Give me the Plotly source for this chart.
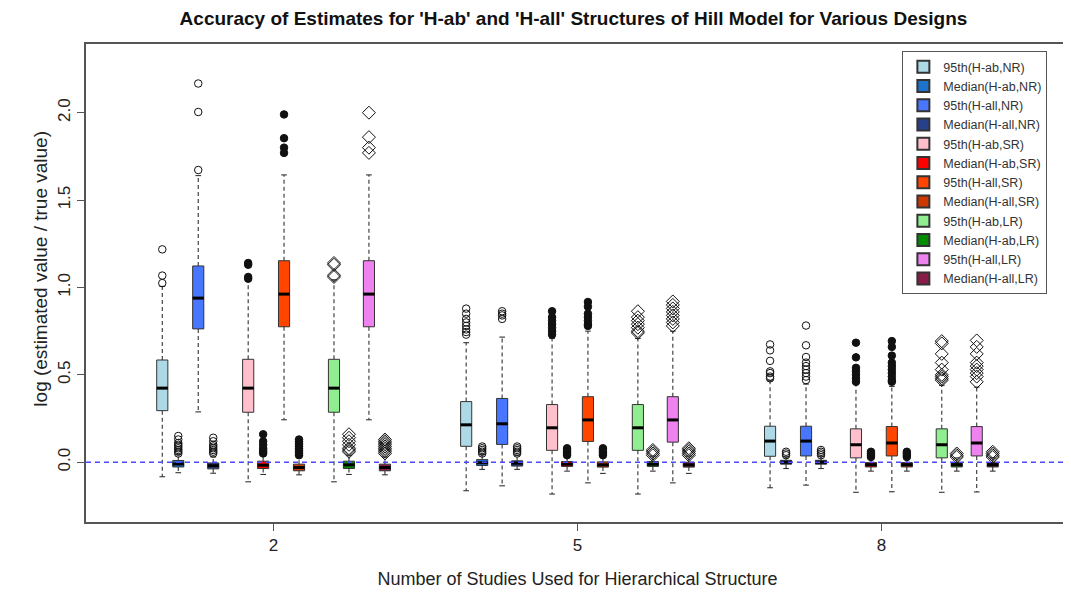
import plotly.graph_objects as go

# ---------------- data ----------------
groups = [2, 5, 8]
group_labels = ["2", "5", "8"]

series_names = [
    "95th(H-ab,NR)", "Median(H-ab,NR)", "95th(H-all,NR)", "Median(H-all,NR)",
    "95th(H-ab,SR)", "Median(H-ab,SR)", "95th(H-all,SR)", "Median(H-all,SR)",
    "95th(H-ab,LR)", "Median(H-ab,LR)", "95th(H-all,LR)", "Median(H-all,LR)",
]

q1_vals = [
    [0.295, 0.091, 0.034], [-0.027, -0.019, -0.011], [0.763, 0.102, 0.036], [-0.038, -0.022, -0.011],
    [0.286, 0.068, 0.025], [-0.036, -0.024, -0.027], [0.775, 0.119, 0.036], [-0.049, -0.028, -0.027],
    [0.286, 0.068, 0.025], [-0.036, -0.024, -0.027], [0.775, 0.115, 0.036], [-0.049, -0.028, -0.027],
]
median_vals = [
    [0.424, 0.214, 0.121], [-0.010, -0.003, 0.000], [0.939, 0.220, 0.121], [-0.020, -0.005, 0.000],
    [0.424, 0.197, 0.100], [-0.017, -0.011, -0.014], [0.962, 0.242, 0.110], [-0.030, -0.015, -0.014],
    [0.424, 0.197, 0.100], [-0.015, -0.011, -0.014], [0.962, 0.242, 0.110], [-0.030, -0.015, -0.014],
]
q3_vals = [
    [0.585, 0.347, 0.206], [0.010, 0.015, 0.011], [1.123, 0.365, 0.206], [-0.004, 0.008, 0.011],
    [0.589, 0.330, 0.191], [0.006, 0.004, -0.002], [1.153, 0.375, 0.204], [-0.011, 0.002, -0.002],
    [0.589, 0.330, 0.191], [0.006, 0.004, -0.002], [1.153, 0.375, 0.204], [-0.011, 0.000, -0.002],
]
whisker_low = [
    [-0.083, -0.163, -0.146], [-0.060, -0.041, -0.036], [0.288, -0.135, -0.131], [-0.063, -0.041, -0.036],
    [-0.112, -0.182, -0.172], [-0.070, -0.051, -0.051], [0.243, -0.118, -0.169], [-0.072, -0.064, -0.051],
    [-0.112, -0.182, -0.172], [-0.070, -0.051, -0.051], [0.243, -0.118, -0.170], [-0.072, -0.064, -0.051],
]
whisker_high = [
    [1.006, 0.684, 0.466], [0.045, 0.045, 0.030], [1.640, 0.716, 0.447], [0.030, 0.040, 0.035],
    [1.044, 0.708, 0.447], [0.040, 0.035, 0.025], [1.644, 0.750, 0.434], [0.030, 0.035, 0.025],
    [1.044, 0.708, 0.440], [0.040, 0.035, 0.025], [1.644, 0.750, 0.430], [0.030, 0.035, 0.025],
]
outliers = [
    [[1.218, 1.068, 1.025], [0.879, 0.85, 0.82, 0.80, 0.78, 0.76, 0.745, 0.73], [0.674, 0.64, 0.58, 0.52, 0.51, 0.49, 0.48]],
    [[0.05, 0.06, 0.07, 0.08, 0.09, 0.10, 0.11, 0.13, 0.15], [0.05, 0.06, 0.07, 0.08, 0.09], [0.04, 0.05, 0.06]],
    [[2.167, 2.004, 1.672], [0.864, 0.85, 0.84, 0.82], [0.782, 0.669, 0.602, 0.57, 0.55, 0.53, 0.51, 0.49, 0.47]],
    [[0.05, 0.06, 0.07, 0.08, 0.09, 0.10, 0.12, 0.14], [0.05, 0.06, 0.07, 0.08, 0.09], [0.04, 0.05, 0.06, 0.07]],
    [[1.14, 1.13, 1.06, 1.05], [0.864, 0.83, 0.81, 0.79, 0.77, 0.75, 0.73], [0.684, 0.60, 0.54, 0.52, 0.50, 0.48, 0.46]],
    [[0.05, 0.06, 0.07, 0.08, 0.10, 0.12, 0.16], [0.04, 0.05, 0.06, 0.07, 0.08], [0.03, 0.04, 0.05, 0.06]],
    [[1.99, 1.854, 1.80, 1.77], [0.917, 0.89, 0.85, 0.83, 0.81, 0.79, 0.78], [0.693, 0.66, 0.61, 0.57, 0.55, 0.53, 0.51, 0.49, 0.47, 0.46]],
    [[0.04, 0.05, 0.06, 0.07, 0.08, 0.09, 0.10, 0.11, 0.12, 0.13], [0.04, 0.05, 0.06, 0.07, 0.08], [0.03, 0.04, 0.05, 0.06]],
    [[1.14, 1.13, 1.07, 1.06], [0.864, 0.83, 0.81, 0.79, 0.77, 0.75, 0.74], [0.693, 0.68, 0.62, 0.57, 0.53, 0.50, 0.49, 0.48, 0.47]],
    [[0.06, 0.07, 0.08, 0.10, 0.12, 0.14, 0.16], [0.04, 0.05, 0.06, 0.07], [0.03, 0.04, 0.05]],
    [[2.0, 1.86, 1.80, 1.77], [0.92, 0.90, 0.88, 0.86, 0.84, 0.82, 0.80, 0.78], [0.697, 0.66, 0.62, 0.57, 0.55, 0.53, 0.51, 0.49, 0.46]],
    [[0.05, 0.06, 0.07, 0.08, 0.09, 0.10, 0.11, 0.12, 0.13], [0.04, 0.05, 0.06, 0.07, 0.08], [0.03, 0.04, 0.05, 0.06]],
]

y_tickvals = [0.0, 0.5, 1.0, 1.5, 2.0]
y_ticktext = ["0.0", "0.5", "1.0", "1.5", "2.0"]

title_text = "<b>Accuracy of Estimates for 'H-ab' and 'H-all' Structures of Hill Model for Various Designs</b>"
x_title = "Number of Studies Used for Hierarchical Structure"
y_title = "log (estimated value / true value)"

# ---------------- layout / style constants ----------------
box_offsets = [-1.099, -0.941, -0.744, -0.596, -0.251, -0.103, 0.103, 0.251, 0.596, 0.744, 0.941, 1.099]
colors = ["#ADD8E6", "#1C74CC", "#4876FF", "#27408B",
          "#FFC0CB", "#FF0000", "#FF4500", "#CD3700",
          "#90EE90", "#008B00", "#EE82EE", "#8B1C4A"]
marker_kind = ["circle-open"] * 4 + ["circle"] * 4 + ["diamond-open"] * 4
BOX_W = 0.11
CAP_HALF = 0.028
FONT = "Liberation Sans, Arial, sans-serif"

fig = go.Figure()

# dashed whiskers + caps
wx, wy, cx, cy = [], [], [], []
for s in range(12):
    for g, gx in enumerate(groups):
        p = gx + box_offsets[s]
        wx += [p, p, None, p, p, None]
        wy += [q3_vals[s][g], whisker_high[s][g], None, q1_vals[s][g], whisker_low[s][g], None]
        cx += [p - CAP_HALF, p + CAP_HALF, None, p - CAP_HALF, p + CAP_HALF, None]
        cy += [whisker_high[s][g], whisker_high[s][g], None, whisker_low[s][g], whisker_low[s][g], None]

fig.add_trace(go.Scatter(x=wx, y=wy, mode="lines", line=dict(color="#333333", width=1.1, dash="4px,3px"),
                         showlegend=False, hoverinfo="skip"))
fig.add_trace(go.Scatter(x=cx, y=cy, mode="lines", line=dict(color="#333333", width=1.1),
                         showlegend=False, hoverinfo="skip"))

# boxes
for s in range(12):
    xs = [g + box_offsets[s] for g in groups]
    fig.add_trace(go.Box(
        name=series_names[s], x=xs,
        q1=q1_vals[s], median=median_vals[s], q3=q3_vals[s],
        lowerfence=q1_vals[s], upperfence=q3_vals[s],
        width=BOX_W, fillcolor=colors[s],
        line=dict(color="#333333", width=1),
        whiskerwidth=0, boxpoints=False, hoverinfo="skip",
    ))

# thick medians
mx, my = [], []
for s in range(12):
    for g, gx in enumerate(groups):
        p = gx + box_offsets[s]
        mx += [p - BOX_W / 2, p + BOX_W / 2, None]
        my += [median_vals[s][g], median_vals[s][g], None]
fig.add_trace(go.Scatter(x=mx, y=my, mode="lines", line=dict(color="black", width=3),
                         showlegend=False, hoverinfo="skip"))

# outliers
for kind in ["circle-open", "circle", "diamond-open"]:
    ox, oy = [], []
    for s in range(12):
        if marker_kind[s] != kind:
            continue
        for g, gx in enumerate(groups):
            for v in outliers[s][g]:
                ox.append(gx + box_offsets[s])
                oy.append(v)
    size = 10 if kind == "diamond-open" else 7.5
    fig.add_trace(go.Scatter(
        x=ox, y=oy, mode="markers", showlegend=False, hoverinfo="skip",
        marker=dict(symbol=kind, size=size, color="#111111",
                    line=dict(color="#111111", width=1)),
    ))

fig.add_shape(type="line", xref="paper", x0=0, x1=1, yref="y", y0=0, y1=0,
              line=dict(color="#4A4AFF", width=1.3, dash="5px,4px"), layer="above")

# y-axis title as a rotated annotation (positioned like the original)
fig.add_annotation(text=y_title, xref="paper", yref="paper", x=0, y=0.53,
                   xanchor="center", yanchor="middle", xshift=-45, textangle=-90,
                   showarrow=False, font=dict(size=19, color="#222222", family=FONT))

fig.update_layout(
    width=1071, height=595,
    margin=dict(l=78, r=8, t=36, b=81),
    paper_bgcolor="white", plot_bgcolor="white",
    font=dict(family=FONT, color="#222222"),
    title=dict(text=title_text, x=0.528, xanchor="center", y=0.982, yanchor="middle",
               font=dict(size=19, color="#111111", family=FONT)),
    boxmode="overlay",
    legend=dict(x=0.978, xanchor="right", y=0.985, yanchor="top",
                bordercolor="#555555", borderwidth=1, bgcolor="white",
                font=dict(size=12.5, color="#333333", family=FONT),
                tracegroupgap=0, itemsizing="constant"),
    xaxis=dict(range=[0.148, 9.852], tickvals=groups, ticktext=group_labels,
               ticks="outside", ticklen=7, tickcolor="#555555", tickwidth=1,
               showline=True, mirror=True, linecolor="#555555", linewidth=1.5,
               showgrid=False, zeroline=False, tickfont=dict(size=17),
               title=dict(text=x_title, font=dict(size=18), standoff=18)),
    yaxis=dict(range=[-0.342, 2.393], tickvals=y_tickvals, ticktext=y_ticktext,
               tickangle=-90, ticks="outside", ticklen=7, tickcolor="#555555", tickwidth=1,
               showline=True, mirror=True, linecolor="#555555", linewidth=1.5,
               showgrid=False, zeroline=False, tickfont=dict(size=17)),
)

fig.write_html("out.html")
